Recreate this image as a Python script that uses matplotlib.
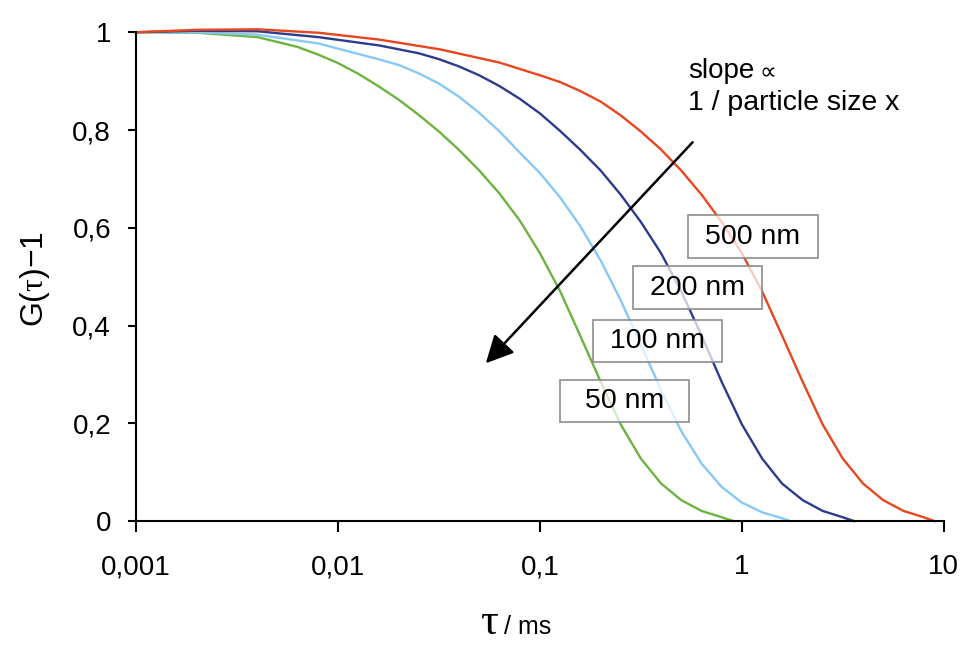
import matplotlib
matplotlib.use("Agg")
import matplotlib.pyplot as plt
from matplotlib.patches import Rectangle

plt.rcParams["font.family"] = ["Liberation Sans", "DejaVu Sans"]
plt.rcParams["mathtext.fontset"] = "custom"
plt.rcParams["mathtext.rm"] = "Liberation Sans"
plt.rcParams["mathtext.it"] = "Liberation Serif"

# correlation decay per particle size: tau [ms] and G(tau)-1
red_tau = [0.001, 0.002, 0.004, 0.008, 0.016, 0.032, 0.063, 0.1, 0.126, 0.158,
           0.2, 0.251, 0.316, 0.398, 0.501, 0.631, 0.794, 1.0, 1.26, 1.58,
           2.0, 2.51, 3.16, 3.98, 5.01, 6.31, 7.94, 9.0]
red_g = [1.0, 1.005, 1.006, 0.999, 0.985, 0.965, 0.938, 0.912, 0.898, 0.88,
         0.858, 0.83, 0.797, 0.76, 0.717, 0.668, 0.612, 0.548, 0.47, 0.38,
         0.285, 0.198, 0.128, 0.077, 0.043, 0.021, 0.008, 0.0]

blue_tau = [0.001, 0.002, 0.004, 0.008, 0.016, 0.0251, 0.0316, 0.0398, 0.05, 0.063,
            0.0794, 0.1, 0.126, 0.158, 0.2, 0.251, 0.316, 0.398, 0.501, 0.631,
            0.794, 1.0, 1.26, 1.58, 2.0, 2.51, 3.16, 3.6]
blue_g = [1.0, 1.003, 1.002, 0.99, 0.973, 0.957, 0.945, 0.93, 0.912, 0.89,
          0.864, 0.834, 0.798, 0.76, 0.717, 0.668, 0.612, 0.548, 0.47, 0.38,
          0.285, 0.198, 0.128, 0.077, 0.043, 0.021, 0.008, 0.0]

lblue_tau = [0.001, 0.002, 0.004, 0.008, 0.0158, 0.02, 0.0251, 0.0316, 0.0398, 0.0501,
             0.0631, 0.0794, 0.1, 0.126, 0.158, 0.2, 0.251, 0.316, 0.398, 0.501,
             0.631, 0.794, 1.0, 1.26, 1.58, 1.74]
lblue_g = [1.0, 1.0, 0.995, 0.977, 0.945, 0.933, 0.916, 0.895, 0.868, 0.835,
           0.797, 0.754, 0.712, 0.662, 0.604, 0.533, 0.452, 0.361, 0.268, 0.184,
           0.118, 0.07, 0.038, 0.018, 0.006, 0.0]

green_tau = [0.001, 0.002, 0.004, 0.0063, 0.0079, 0.01, 0.0126, 0.0158, 0.02, 0.0251,
             0.0316, 0.0398, 0.0501, 0.0631, 0.0794, 0.1, 0.126, 0.158, 0.2, 0.251,
             0.316, 0.398, 0.501, 0.631, 0.794, 0.91]
green_g = [1.0, 0.999, 0.99, 0.97, 0.955, 0.937, 0.915, 0.89, 0.862, 0.831,
           0.797, 0.759, 0.717, 0.67, 0.615, 0.548, 0.47, 0.38, 0.285, 0.198,
           0.128, 0.077, 0.043, 0.021, 0.008, 0.0]

size_labels = ["500 nm", "200 nm", "100 nm", "50 nm"]
x_ticks = [0.001, 0.01, 0.1, 1, 10]
x_ticklabels = ["0,001", "0,01", "0,1", "1", "10"]
y_ticks = [0, 0.2, 0.4, 0.6, 0.8, 1]
y_ticklabels = ["0", "0,2", "0,4", "0,6", "0,8", "1"]

RED = "#e8461e"
NAVY = "#2d3b8e"
LBLUE = "#86c9f4"
GREEN = "#6db33f"

fig = plt.figure(figsize=(9.72, 6.45), dpi=100)
ax = fig.add_axes([0.140, 0.192, 0.831, 0.758])

for tau, g, col in [(green_tau, green_g, GREEN), (lblue_tau, lblue_g, LBLUE),
                    (blue_tau, blue_g, NAVY), (red_tau, red_g, RED)]:
    ax.plot(tau, g, color=col, lw=1.7, clip_on=False, zorder=2,
            solid_joinstyle="round")

ax.set_xscale("log")
ax.set_xlim(0.001, 10)
ax.set_ylim(0, 1)
ax.set_xticks(x_ticks)
ax.set_xticklabels(x_ticklabels)
ax.set_yticks(y_ticks)
ax.set_yticklabels(y_ticklabels)
ax.minorticks_off()
ax.tick_params(axis="x", length=8, width=1.5, pad=16, labelsize=20)
ax.tick_params(axis="y", length=6, width=1.5, pad=12, labelsize=20)
for side in ["top", "right"]:
    ax.spines[side].set_visible(False)
for side in ["left", "bottom"]:
    ax.spines[side].set_linewidth(1.5)

# size labels in semi-transparent boxes over the curves
boxes = [(0.683, 0.538, 0.161, 0.088), (0.615, 0.434, 0.160, 0.087),
         (0.566, 0.325, 0.159, 0.086), (0.525, 0.202, 0.159, 0.086)]
for lab, (bx, by, bw, bh) in zip(size_labels, boxes):
    ax.add_patch(Rectangle((bx, by), bw, bh, transform=ax.transAxes,
                           facecolor=(1, 1, 1, 0.72), edgecolor="#8c8c8c",
                           lw=1.2, zorder=3))
    ax.text(bx + bw / 2, by + bh / 2, lab, transform=ax.transAxes,
            ha="center", va="center", fontsize=20.5, zorder=4)

ax.annotate("", xy=(0.433, 0.323), xytext=(0.689, 0.775),
            xycoords="axes fraction", textcoords="axes fraction",
            arrowprops=dict(arrowstyle="-|>,head_length=0.6,head_width=0.3",
                            mutation_scale=28, lw=1.8, color="black",
                            shrinkA=0, shrinkB=0))

ax.text(0.683, 0.906, "slope", transform=ax.transAxes, fontsize=20,
        va="baseline", ha="left")
ax.text(0.772, 0.904, "\u221d", transform=ax.transAxes, fontsize=17,
        va="baseline", ha="left", family=["DejaVu Sans"])
ax.text(0.683, 0.840, "1 / particle size x", transform=ax.transAxes,
        fontsize=20.5, va="baseline", ha="left")

fig.text(35 / 972, 1 - 279 / 645, r"G($\tau$)$-$1", rotation=90,
         ha="center", va="center", fontsize=23)
fig.text(489 / 972, 1 - 634 / 645, "\u03c4", family="Liberation Serif",
         fontsize=32, ha="center", va="baseline")
fig.text(504 / 972, 1 - 634 / 645, "/ ms", fontsize=18, ha="left",
         va="baseline")

fig.savefig("out.png", dpi=100)
